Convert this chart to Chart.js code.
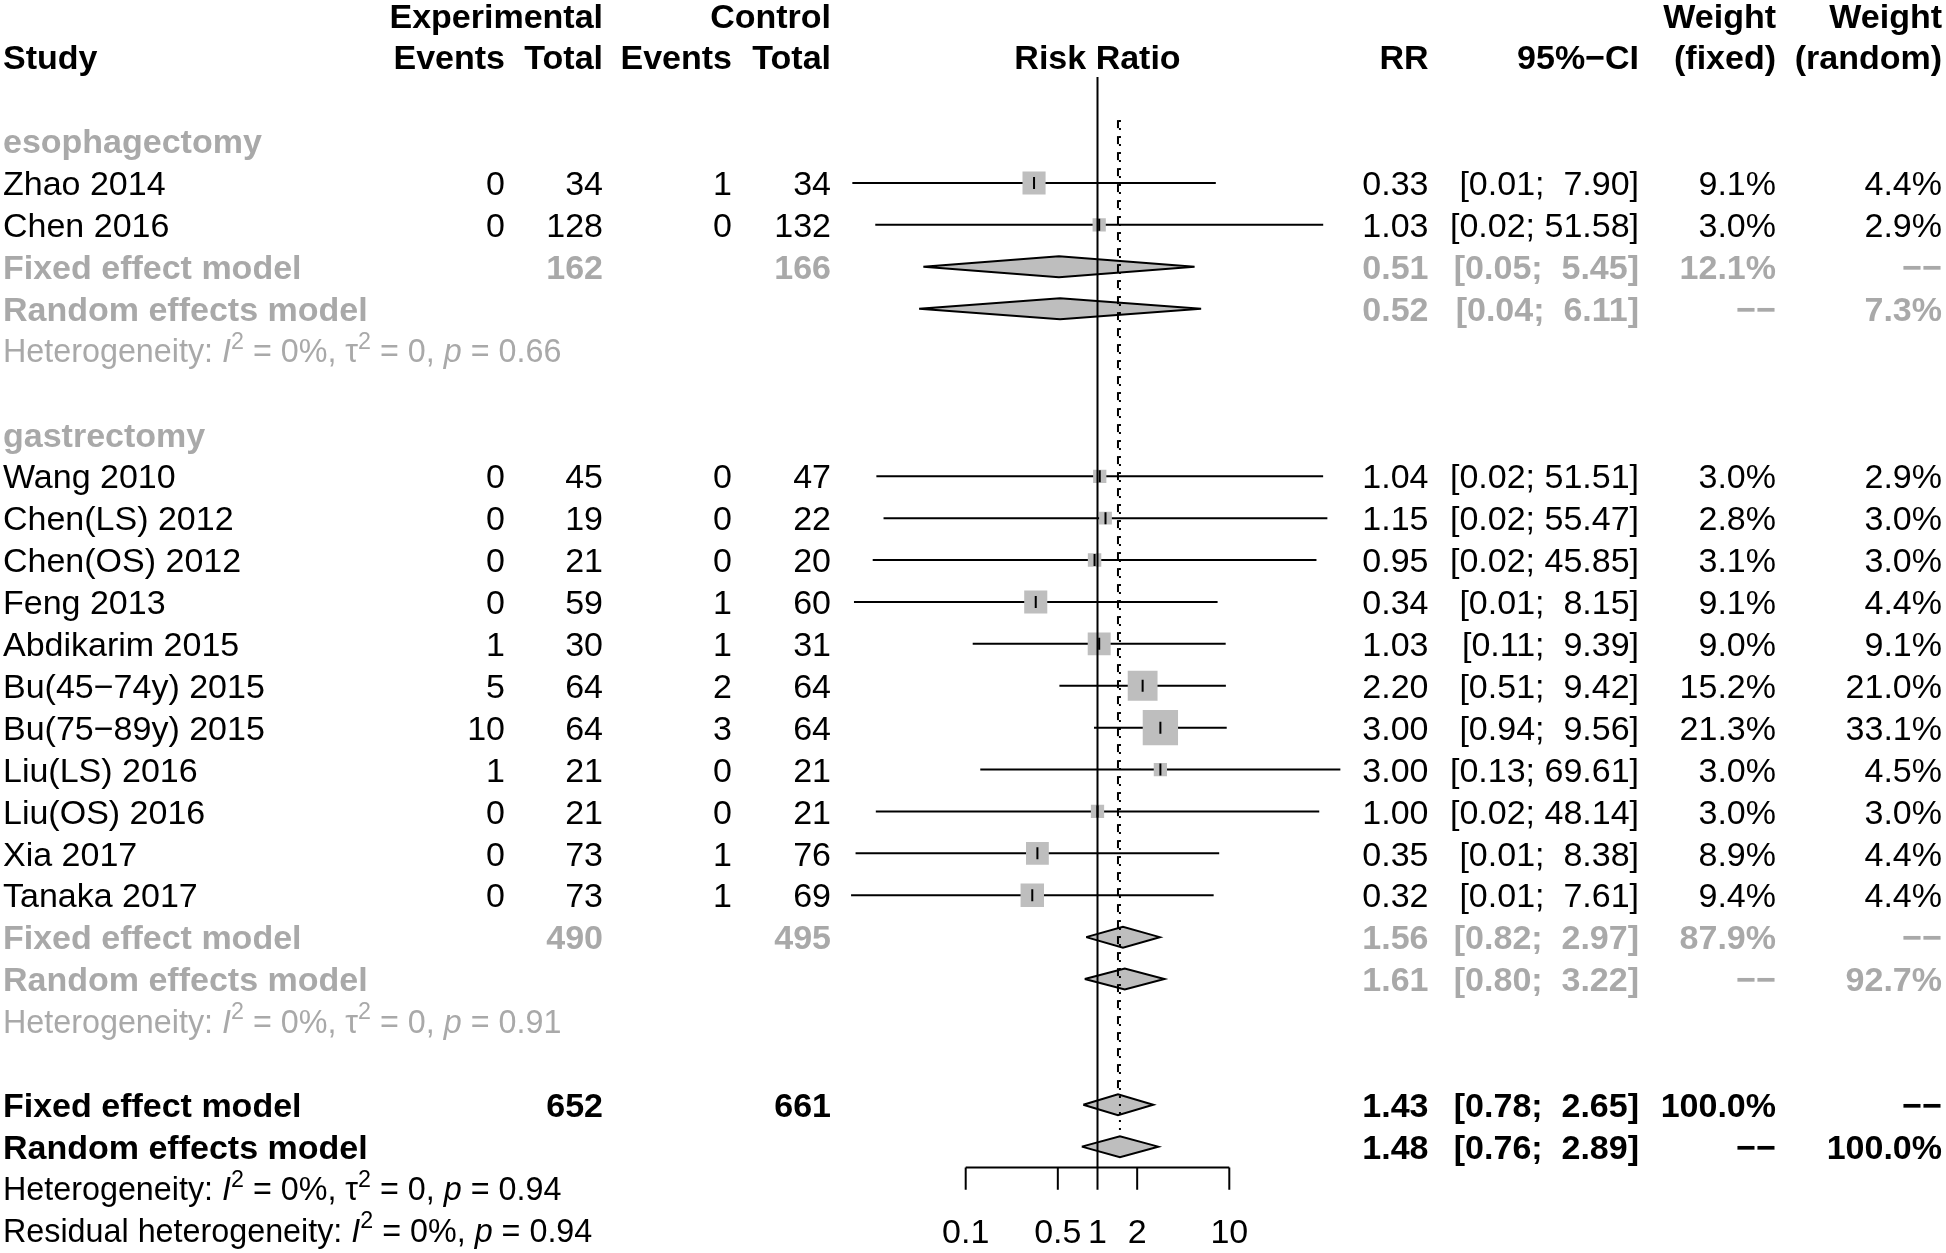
<!DOCTYPE html>
<html><head><meta charset="utf-8">
<script src="https://cdn.jsdelivr.net/npm/chart.js@4.4.1/dist/chart.umd.min.js"></script>
<style>html,body{margin:0;padding:0;background:#fff;}canvas{display:block;}</style>
</head><body>
<canvas id="c" width="1946" height="1253" style="width:1946px;height:1253px"></canvas>
<script>
// ---------------- data ----------------
const groupNames = ['esophagectomy', 'gastrectomy'];
const studyNames = ['Zhao 2014','Chen 2016','Wang 2010','Chen(LS) 2012','Chen(OS) 2012','Feng 2013','Abdikarim 2015','Bu(45\u221274y) 2015','Bu(75\u221289y) 2015','Liu(LS) 2016','Liu(OS) 2016','Xia 2017','Tanaka 2017'];
const studyGroup = [0,0,1,1,1,1,1,1,1,1,1,1,1];
const expEvents = [0,0,0,0,0,0,1,5,10,1,0,0,0];
const expTotal = [34,128,45,19,21,59,30,64,64,21,21,73,73];
const ctrlEvents = [1,0,0,0,0,1,1,2,3,0,0,1,1];
const ctrlTotal = [34,132,47,22,20,60,31,64,64,21,21,76,69];
const riskRatio = [0.33,1.03,1.04,1.15,0.95,0.34,1.03,2.20,3.00,3.00,1.00,0.35,0.32];
const ciLower = [0.0138,0.0206,0.0210,0.0238,0.0197,0.0142,0.113,0.514,0.941,0.129,0.0208,0.0146,0.0135];
const ciUpper = [7.90,51.58,51.51,55.47,45.85,8.15,9.39,9.42,9.56,69.61,48.14,8.38,7.61];
const weightFixed = [9.1,3.0,3.0,2.8,3.1,9.1,9.0,15.2,21.3,3.0,3.0,8.9,9.4];
const weightRandom = [4.4,2.9,2.9,3.0,3.0,4.4,9.1,21.0,33.1,4.5,3.0,4.4,4.4];

const groupExpTotal = [162, 490];
const groupCtrlTotal = [166, 495];
const groupFixedRR = [0.51, 1.56];
const groupFixedLower = [0.0477, 0.82];
const groupFixedUpper = [5.45, 2.97];
const groupFixedWeight = [12.1, 87.9];
const groupRandomRR = [0.52, 1.61];
const groupRandomLower = [0.0443, 0.80];
const groupRandomUpper = [6.11, 3.22];
const groupRandomWeight = [7.3, 92.7];
const groupHetI2 = ['0%', '0%'];
const groupHetTau2 = ['0', '0'];
const groupHetP = ['0.66', '0.91'];

const overallExpTotal = 652;
const overallCtrlTotal = 661;
const overallFixed = [1.43, 0.78, 2.65];   // RR, lower, upper
const overallRandom = [1.48, 0.76, 2.89];
const overallFixedWeight = 100.0;
const overallRandomWeight = 100.0;
const overallHet = ['0%', '0', '0.94'];     // I2, tau2, p
const residualHet = ['0%', '0.94'];         // I2, p

const axisTicks = [0.1, 0.5, 1, 2, 10];
const axisTickLabels = ['0.1', '0.5', '1', '2', '10'];

// ---------------- layout / style ----------------
const SX = 1.0;
const FONT = '"Liberation Sans", Arial, Helvetica, sans-serif';
const FS = 34, FS_HET = 32.3, FS_AXIS = 34;
const BASE = 12.2, BASE_HET = 11.6;
const GRAY = '#A9A9A9', BOXGRAY = '#BEBEBE';
const COL = {study: 3, expEv: 505, expTot: 603, ctrlEv: 732, ctrlTot: 831, rr: 1428.5, ci: 1639, wf: 1776, wr: 1942};
const DIAMOND_H = 0.25;
const BOX_K = 7.65;

// rows
const studyRow = [], groupRow = [], gFixedRow = [], gRandomRow = [], gHetRow = [];
let r = 2;
groupNames.forEach((g, gi) => {
  groupRow[gi] = r++;
  studyGroup.forEach((sg, si) => { if (sg === gi) studyRow[si] = r++; });
  gFixedRow[gi] = r++; gRandomRow[gi] = r++; gHetRow[gi] = r++; r++;
});
const oFixedRow = r, oRandomRow = r + 1, oHetRow = r + 2, resHetRow = r + 3;
const axisRow = oRandomRow + 0.5;

const fmt2 = v => v.toFixed(2);
const fmtCI = (lo, hi) => '[' + lo.toFixed(2) + '; ' + hi.toFixed(2).padStart(5, ' ') + ']';
const fmtW = w => (w == null ? '\u2212\u2212' : w.toFixed(1) + '%');

// ---------------- datasets ----------------
const datasets = [];
const seg = (pts, extra) => Object.assign({data: pts, showLine: true, pointRadius: 0, borderColor: '#000', borderWidth: 2, fill: false, tension: 0}, extra);

// reference lines
datasets.push(seg([{x: 1, y: 0.47}, {x: 1, y: axisRow}], {order: 3}));
datasets.push(seg([{x: overallFixed[0], y: 1.5}, {x: overallFixed[0], y: oFixedRow - 0.3}], {order: 3, borderWidth: 2, borderDash: [8, 8]}));
datasets.push(seg([{x: overallRandom[0], y: 1.5}, {x: overallRandom[0], y: oRandomRow - 0.3}], {order: 3, borderWidth: 2, borderDash: [2, 6]}));

// axis
datasets.push(seg([{x: axisTicks[0], y: axisRow}, {x: axisTicks[axisTicks.length - 1], y: axisRow}], {order: 9}));
axisTicks.forEach(t => datasets.push(seg([{x: t, y: axisRow}, {x: t, y: axisRow + 0.53}], {order: 9})));

// CI lines
studyNames.forEach((s, i) => datasets.push(seg([{x: ciLower[i], y: studyRow[i]}, {x: ciUpper[i], y: studyRow[i]}], {order: 8})));

// squares
datasets.push({
  data: studyNames.map((s, i) => ({x: riskRatio[i], y: studyRow[i]})),
  pointStyle: 'rect', pointRotation: 0,
  pointRadius: weightFixed.map(w => BOX_K * Math.sqrt(w) / Math.SQRT2),
  pointBackgroundColor: BOXGRAY, pointBorderWidth: 0, pointBorderColor: BOXGRAY,
  showLine: false, order: 6
});
// estimate ticks
datasets.push({
  data: studyNames.map((s, i) => ({x: riskRatio[i], y: studyRow[i]})),
  pointStyle: 'line', pointRotation: 90, pointRadius: 6,
  pointBorderColor: '#000', pointBorderWidth: 2, showLine: false, order: 5
});

// diamonds
function diamond(est, lo, hi, row) {
  return seg([{x: lo, y: row}, {x: est, y: row - DIAMOND_H}, {x: hi, y: row}, {x: est, y: row + DIAMOND_H}, {x: lo, y: row}],
    {fill: 'shape', backgroundColor: BOXGRAY, borderWidth: 2, borderJoinStyle: 'miter', order: 7});
}
groupNames.forEach((g, gi) => {
  datasets.push(diamond(groupFixedRR[gi], groupFixedLower[gi], groupFixedUpper[gi], gFixedRow[gi]));
  datasets.push(diamond(groupRandomRR[gi], groupRandomLower[gi], groupRandomUpper[gi], gRandomRow[gi]));
});
datasets.push(diamond(overallFixed[0], overallFixed[1], overallFixed[2], oFixedRow));
datasets.push(diamond(overallRandom[0], overallRandom[1], overallRandom[2], oRandomRow));

// ---------------- text plugin ----------------
function txt(ctx, s, x, y, align, o) {
  o = o || {};
  const size = o.size || FS;
  ctx.save();
  ctx.font = (o.italic ? 'italic ' : '') + (o.bold ? 'bold ' : '') + size + 'px ' + FONT;
  ctx.fillStyle = o.color || '#000';
  ctx.textAlign = align; ctx.textBaseline = 'alphabetic';
  ctx.translate(x, y); ctx.scale(SX, 1);
  ctx.fillText(s, 0, 0);
  const w = ctx.measureText(s).width * SX;
  ctx.restore();
  return w;
}
function rich(ctx, parts, x, y, color) {
  let cx = x;
  parts.forEach(([s, kind]) => {
    let size = FS_HET, dy = 0, italic = false;
    if (kind === 'i') italic = true;
    if (kind === 'sup') { size = FS_HET * 0.72; dy = -FS_HET * 0.42; }
    cx += txt(ctx, s, cx, y + dy, 'left', {size, italic, color});
  });
}
function hetParts(i2, tau2, p) {
  const parts = [['Heterogeneity: ', 'n'], ['I', 'i'], ['2', 'sup'], [' = ' + i2 + ', ', 'n']];
  if (tau2 != null) parts.push(['\u03c4', 'n'], ['2', 'sup'], [' = ' + tau2 + ', ', 'n']);
  parts.push(['p', 'i'], [' = ' + p, 'n']);
  return parts;
}

const textPlugin = {
  id: 'forestText',
  afterDatasetsDraw(chart) {
    const ctx = chart.ctx, xs = chart.scales.x, ys = chart.scales.y;
    const Y = row => ys.getPixelForValue(row) + BASE;
    const YH = row => ys.getPixelForValue(row) + BASE_HET;
    const B = {bold: true};
    // headers
    txt(ctx, 'Experimental', COL.expTot, Y(-1), 'right', B);
    txt(ctx, 'Control', COL.ctrlTot, Y(-1), 'right', B);
    txt(ctx, 'Weight', COL.wf, Y(-1), 'right', B);
    txt(ctx, 'Weight', COL.wr, Y(-1), 'right', B);
    txt(ctx, 'Study', COL.study, Y(0), 'left', B);
    txt(ctx, 'Events', COL.expEv, Y(0), 'right', B);
    txt(ctx, 'Total', COL.expTot, Y(0), 'right', B);
    txt(ctx, 'Events', COL.ctrlEv, Y(0), 'right', B);
    txt(ctx, 'Total', COL.ctrlTot, Y(0), 'right', B);
    txt(ctx, 'Risk Ratio', xs.getPixelForValue(1), Y(0), 'center', B);
    txt(ctx, 'RR', COL.rr, Y(0), 'right', B);
    txt(ctx, '95%\u2212CI', COL.ci, Y(0), 'right', B);
    txt(ctx, '(fixed)', COL.wf, Y(0), 'right', B);
    txt(ctx, '(random)', COL.wr, Y(0), 'right', B);

    // studies
    studyNames.forEach((s, i) => {
      const y = Y(studyRow[i]);
      txt(ctx, s, COL.study, y, 'left');
      txt(ctx, String(expEvents[i]), COL.expEv, y, 'right');
      txt(ctx, String(expTotal[i]), COL.expTot, y, 'right');
      txt(ctx, String(ctrlEvents[i]), COL.ctrlEv, y, 'right');
      txt(ctx, String(ctrlTotal[i]), COL.ctrlTot, y, 'right');
      txt(ctx, fmt2(riskRatio[i]), COL.rr, y, 'right');
      txt(ctx, fmtCI(ciLower[i], ciUpper[i]), COL.ci, y, 'right');
      txt(ctx, fmtW(weightFixed[i]), COL.wf, y, 'right');
      txt(ctx, fmtW(weightRandom[i]), COL.wr, y, 'right');
    });
    // groups
    groupNames.forEach((g, gi) => {
      const G = {bold: true, color: GRAY};
      txt(ctx, g, COL.study, Y(groupRow[gi]), 'left', G);
      let y = Y(gFixedRow[gi]);
      txt(ctx, 'Fixed effect model', COL.study, y, 'left', G);
      txt(ctx, String(groupExpTotal[gi]), COL.expTot, y, 'right', G);
      txt(ctx, String(groupCtrlTotal[gi]), COL.ctrlTot, y, 'right', G);
      txt(ctx, fmt2(groupFixedRR[gi]), COL.rr, y, 'right', G);
      txt(ctx, fmtCI(groupFixedLower[gi], groupFixedUpper[gi]), COL.ci, y, 'right', G);
      txt(ctx, fmtW(groupFixedWeight[gi]), COL.wf, y, 'right', G);
      txt(ctx, fmtW(null), COL.wr, y, 'right', G);
      y = Y(gRandomRow[gi]);
      txt(ctx, 'Random effects model', COL.study, y, 'left', G);
      txt(ctx, fmt2(groupRandomRR[gi]), COL.rr, y, 'right', G);
      txt(ctx, fmtCI(groupRandomLower[gi], groupRandomUpper[gi]), COL.ci, y, 'right', G);
      txt(ctx, fmtW(null), COL.wf, y, 'right', G);
      txt(ctx, fmtW(groupRandomWeight[gi]), COL.wr, y, 'right', G);
      rich(ctx, hetParts(groupHetI2[gi], groupHetTau2[gi], groupHetP[gi]), COL.study, YH(gHetRow[gi]), GRAY);
    });
    // overall
    let y = Y(oFixedRow);
    txt(ctx, 'Fixed effect model', COL.study, y, 'left', B);
    txt(ctx, String(overallExpTotal), COL.expTot, y, 'right', B);
    txt(ctx, String(overallCtrlTotal), COL.ctrlTot, y, 'right', B);
    txt(ctx, fmt2(overallFixed[0]), COL.rr, y, 'right', B);
    txt(ctx, fmtCI(overallFixed[1], overallFixed[2]), COL.ci, y, 'right', B);
    txt(ctx, fmtW(overallFixedWeight), COL.wf, y, 'right', B);
    txt(ctx, fmtW(null), COL.wr, y, 'right', B);
    y = Y(oRandomRow);
    txt(ctx, 'Random effects model', COL.study, y, 'left', B);
    txt(ctx, fmt2(overallRandom[0]), COL.rr, y, 'right', B);
    txt(ctx, fmtCI(overallRandom[1], overallRandom[2]), COL.ci, y, 'right', B);
    txt(ctx, fmtW(null), COL.wf, y, 'right', B);
    txt(ctx, fmtW(overallRandomWeight), COL.wr, y, 'right', B);
    rich(ctx, hetParts(overallHet[0], overallHet[1], overallHet[2]), COL.study, YH(oHetRow), '#000');
    const res = hetParts(residualHet[0], null, residualHet[1]);
    res[0][0] = 'Residual heterogeneity: ';
    rich(ctx, res, COL.study, YH(resHetRow), '#000');
    // axis labels
    axisTicks.forEach((t, i) => txt(ctx, axisTickLabels[i], xs.getPixelForValue(t), ys.getPixelForValue(resHetRow) + 12.5, 'center', {size: FS_AXIS}));
  }
};

// ---------------- chart ----------------
const X0 = 833.9, X1 = 1361.1;
new Chart(document.getElementById('c'), {
  type: 'scatter',
  data: {datasets},
  options: {
    responsive: false, animation: false, devicePixelRatio: 1,
    layout: {autoPadding: false, padding: {left: X0, right: 1946 - X1, top: 0.7, bottom: 1.6}},
    scales: {
      x: {type: 'logarithmic', min: 0.01, max: 100, display: false},
      y: {type: 'linear', min: -1.35, max: 28.5, reverse: true, display: false}
    },
    plugins: {legend: {display: false}, tooltip: {enabled: false}},
    events: []
  },
  plugins: [textPlugin]
});
</script>
</body></html>
